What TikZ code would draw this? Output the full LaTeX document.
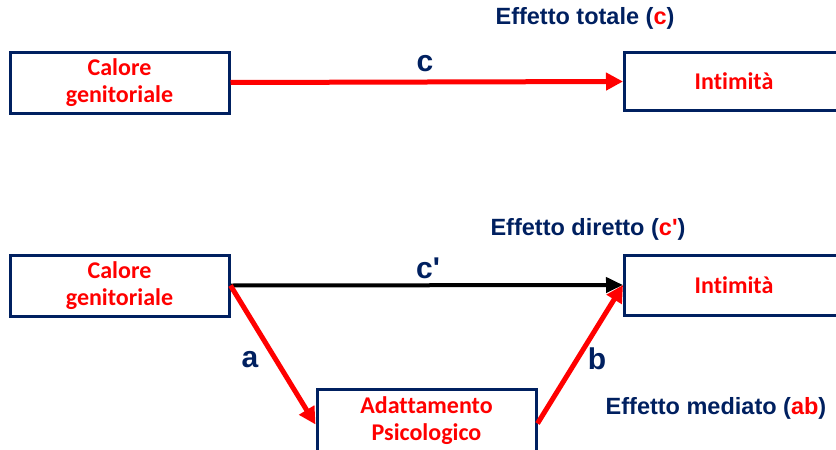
\documentclass[tikz,border=0pt]{standalone}
\usepackage{fontspec}
\usetikzlibrary{arrows.meta}
\newfontfamily\boxfont{Carlito}[Ligatures=CommonOff]
\newfontfamily\labfont{Liberation Sans}
\definecolor{navy}{HTML}{002060}
\definecolor{myred}{HTML}{FF0000}
\tikzset{
  box/.style={draw=navy, line width=3pt, fill=white, minimum width=219pt, minimum height=61pt,
    inner sep=0pt, align=center, text=myred, font=\boxfont\bfseries\fontsize{24}{27}\selectfont},
  lab/.style={text=navy, font=\labfont\bfseries\fontsize{23.5}{28}\selectfont, inner sep=0pt},
  letter/.style={text=navy, font=\labfont\bfseries\fontsize{30}{34}\selectfont, inner sep=0pt},
  redarr/.style={draw=myred, line width=5pt, -{Triangle[length=17pt,width=17pt]}},
  blackarr/.style={draw=black, line width=4pt, -{Triangle[length=17pt,width=15pt]}}
}
\begin{document}
\begin{tikzpicture}[x=1pt,y=-1pt]
\useasboundingbox (0,0) rectangle (836,450);
\clip (0,0) rectangle (836,450);
\fill[white] (0,0) rectangle (836,450);
% top
\node[box] (cal1) at (119.5,82.5) {Calore\\genitoriale};
\node[box, minimum height=58pt] (int1) at (734,81.5) {Intimità};
\draw[redarr] (cal1.east) -- (int1.west);
\node[letter] (c1) at (425,64) {c};
\node[lab] (tot) at (585,18) {Effetto totale (\textcolor{myred}{c})};
% bottom
\node[box] (cal2) at (119.5,285.5) {Calore\\genitoriale};
\node[box, minimum height=60pt] (int2) at (734,285) {Intimità};
\node[box, minimum height=63pt] (ada) at (426.5,420.5) {Adattamento\\Psicologico};
\draw[blackarr] (cal2.east) -- (int2.west);
\draw[redarr] (cal2.east) -- ([yshift=-4pt]ada.west);
\draw[redarr] ([yshift=-3pt]ada.east) -- (int2.west);
\node[letter] (c2) at (428,268) {c\textquotesingle};
\node[letter] (la) at (250,360) {a};
\node[letter] (lb) at (597,359) {b};
\node[lab] (dir) at (588,229) {Effetto diretto (\textcolor{myred}{c\textquotesingle})};
\node[lab] (med) at (716,408) {Effetto mediato (\textcolor{myred}{ab})};
\end{tikzpicture}
\end{document}
